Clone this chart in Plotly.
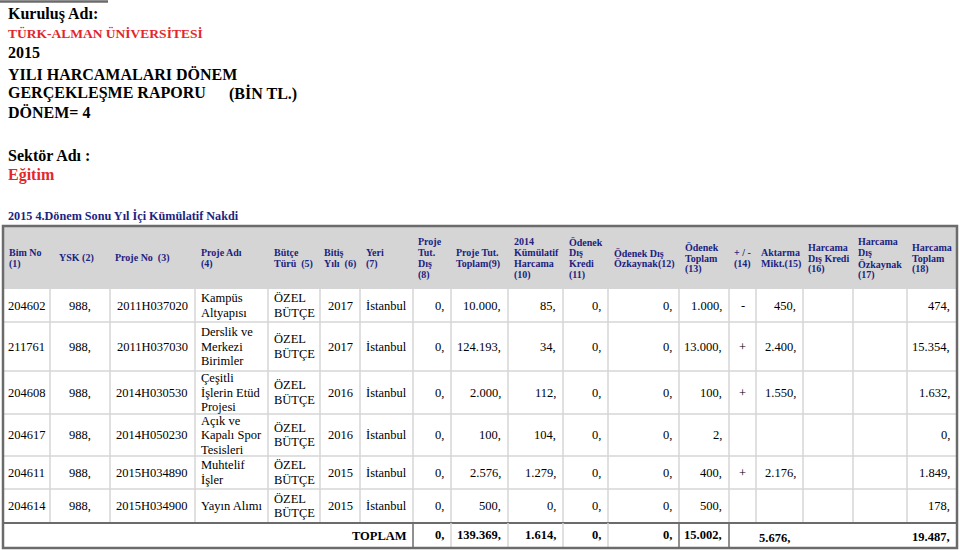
import plotly.graph_objects as go

# ---------------- data ----------------
title_lines = ["Kuruluş Adı:", "TÜRK-ALMAN ÜNİVERSİTESİ", "2015", "YILI HARCAMALARI DÖNEM",
               "GERÇEKLEŞME RAPORU", "(BİN TL.)", "DÖNEM= 4", "Sektör Adı :", "Eğitim",
               "2015 4.Dönem Sonu Yıl İçi Kümülatif Nakdi"]

headers = ["Bim No\n(1)", "YSK (2)", "Proje No  (3)", "Proje Adı\n(4)", "Bütçe\nTürü  (5)",
           "Bitiş\nYılı  (6)", "Yeri\n(7)", "Proje\nTut.\nDış\n(8)", "Proje Tut.\nToplam(9)",
           "2014\nKümülatif\nHarcama\n(10)", "Ödenek\nDış\nKredi\n(11)", "Ödenek Dış\nÖzkaynak(12)",
           "Ödenek\nToplam\n(13)", "+ / -\n(14)", "Aktarma\nMikt.(15)", "Harcama\nDış Kredi\n(16)",
           "Harcama\nDış\nÖzkaynak\n(17)", "Harcama\nToplam\n(18)"]

bim_no = ["204602", "211761", "204608", "204617", "204611", "204614"]
ysk = [988, 988, 988, 988, 988, 988]
proje_no = ["2011H037020", "2011H037030", "2014H030530", "2014H050230", "2015H034890", "2015H034900"]
proje_adi = ["Kampüs\nAltyapısı", "Derslik ve\nMerkezi\nBirimler", "Çeşitli\nİşlerin Etüd\nProjesi",
             "Açık ve\nKapalı Spor\nTesisleri", "Muhtelif\nİşler", "Yayın Alımı"]
butce_turu = ["ÖZEL\nBÜTÇE"] * 6
bitis_yili = [2017, 2017, 2016, 2016, 2015, 2015]
yeri = ["İstanbul"] * 6
proje_tut_dis = [0, 0, 0, 0, 0, 0]
proje_tut_toplam = [10000, 124193, 2000, 100, 2576, 500]
kumulatif_2014 = [85, 34, 112, 104, 1279, 0]
odenek_dis_kredi = [0, 0, 0, 0, 0, 0]
odenek_dis_ozkaynak = [0, 0, 0, 0, 0, 0]
odenek_toplam = [1000, 13000, 100, 2, 400, 500]
arti_eksi = ["-", "+", "+", "", "+", ""]
aktarma = [450, 2400, 1550, None, 2176, None]
harcama_dis_kredi = [None] * 6
harcama_dis_ozkaynak = [None] * 6
harcama_toplam = [474, 15354, 1632, 0, 1849, 178]

toplam_label = "TOPLAM"
tot_proje_tut_dis = 0
tot_proje_tut_toplam = 139369
tot_kumulatif_2014 = 1614
tot_odenek_dis_kredi = 0
tot_odenek_dis_ozkaynak = 0
tot_odenek_toplam = 15002
tot_aktarma = 5676
tot_harcama_toplam = 19487

# ---------------- layout / style ----------------
FONT = "Liberation Serif, Times New Roman, serif"
NAVY = "#1c2380"
RED = "#e3262a"
DARK = "#6b6b6b"
LIGHT = "#d6d6d6"
HEAD_BG = "#d5d5d5"

col_edges = [3, 50, 110, 195, 268, 320, 360, 413, 451, 508, 563, 608, 679, 729, 756, 803, 853, 907, 957]
row_edges = [289, 322, 371, 414, 456, 489, 523]
table_top, table_bottom = 226, 548
header_cy = 258
aligns = ["center", "center", "right", "left", "left", "center", "left", "right", "right", "right",
          "right", "right", "right", "center", "right", "right", "right", "right"]


def fmt(v):
    if v is None:
        return ""
    return f"{v:,}".replace(",", ".") + ","


fig = go.Figure()
fig.update_layout(width=960, height=550, autosize=False, margin=dict(l=0, r=0, t=0, b=0),
                  paper_bgcolor="white", plot_bgcolor="white", showlegend=False,
                  xaxis=dict(range=[0, 960], visible=False, fixedrange=True),
                  yaxis=dict(range=[550, 0], visible=False, fixedrange=True))


def text(x, y, s, size, color="black", anchor="left", bold=False):
    fig.add_annotation(x=x, y=y, xref="x", yref="y", text=(f"<b>{s}</b>" if bold else s),
                       showarrow=False, xanchor=anchor, yanchor="middle", borderpad=0,
                       font=dict(family=FONT, size=size, color=color))


def mtext(x, cy, s, size, spacing, color="black", anchor="left", bold=False):
    lines = s.split("\n")
    n = len(lines)
    for i, ln in enumerate(lines):
        text(x, cy + (i - (n - 1) / 2) * spacing, ln, size, color, anchor, bold)


def line(x0, y0, x1, y1, color, w):
    fig.add_shape(type="line", x0=x0, y0=y0, x1=x1, y1=y1, xref="x", yref="y",
                  line=dict(color=color, width=w))


# top stub line
line(0, 1.5, 108, 1.5, DARK, 2.5)

# titles
title_pos = [(7, 14, 16, "black"), (7, 33, 13.5, RED), (7, 52, 16, "black"), (7, 74, 16, "black"),
             (7, 93, 16, "black"), (228, 93, 16, "black"), (7, 112, 16, "black"),
             (7, 155, 16, "black"), (7, 175, 16, RED), (7, 216, 12.2, NAVY)]
for s, (x, y, sz, c) in zip(title_lines, title_pos):
    text(x, y, s, sz, c, bold=True)

# header background
fig.add_shape(type="rect", x0=col_edges[0], y0=table_top, x1=col_edges[-1], y1=row_edges[0],
              xref="x", yref="y", fillcolor=HEAD_BG, line=dict(width=0), layer="below")

# body grid
for y in row_edges[1:-1]:
    line(col_edges[0], y, col_edges[-1], y, LIGHT, 1.5)
for x in col_edges[1:-1]:
    line(x, row_edges[0], x, row_edges[-1], LIGHT, 1.5)

# totals row grid
line(col_edges[0], row_edges[-1], col_edges[-1], row_edges[-1], DARK, 2)
for x in [451, 508, 563, 608]:
    line(x, row_edges[-1], x, table_bottom, LIGHT, 1.5)
for x in [413, 679, 729]:
    line(x, row_edges[-1], x, table_bottom, DARK, 1.5)

# outer border
fig.add_shape(type="rect", x0=col_edges[0], y0=table_top, x1=col_edges[-1], y1=table_bottom,
              xref="x", yref="y", line=dict(color=DARK, width=2.5))

# headers
head_off = [5, 8, 4, 5, 5, 3, 5, 4, 4, 5, 5, 5, 5, 4, 4, 4, 4, 4]
for i, h in enumerate(headers):
    mtext(col_edges[i] + head_off[i], header_cy, h, 10, 11, NAVY, "left", bold=True)

# body
columns = [bim_no, [fmt(v) for v in ysk], proje_no, proje_adi, butce_turu,
           [str(v) for v in bitis_yili], yeri, [fmt(v) for v in proje_tut_dis],
           [fmt(v) for v in proje_tut_toplam], [fmt(v) for v in kumulatif_2014],
           [fmt(v) for v in odenek_dis_kredi], [fmt(v) for v in odenek_dis_ozkaynak],
           [fmt(v) for v in odenek_toplam], arti_eksi, [fmt(v) for v in aktarma],
           [fmt(v) for v in harcama_dis_kredi], [fmt(v) for v in harcama_dis_ozkaynak],
           [fmt(v) for v in harcama_toplam]]

for c, vals in enumerate(columns):
    x0, x1 = col_edges[c], col_edges[c + 1]
    a = aligns[c]
    if a == "left":
        x = x0 + 5
    elif a == "right":
        x = x1 - 6
    else:
        x = (x0 + x1) / 2
    for r, v in enumerate(vals):
        if not v:
            continue
        cy = (row_edges[r] + row_edges[r + 1]) / 2
        mtext(x, cy, v, 12.5, 14.5, "black", a)

# totals
tcy = (row_edges[-1] + table_bottom) / 2 - 1
text(408, tcy + 1, toplam_label, 12.5, "black", "right", bold=True)
tot_cells = [(451, tot_proje_tut_dis), (508, tot_proje_tut_toplam), (563, tot_kumulatif_2014),
             (608, tot_odenek_dis_kredi), (679, tot_odenek_dis_ozkaynak), (729, tot_odenek_toplam)]
for xr, v in tot_cells:
    text(xr - 6, tcy, fmt(v), 12.5, "black", "right", bold=True)
text(758, tcy + 3, fmt(tot_aktarma), 12.5, "black", "left", bold=True)
text(951, tcy + 2, fmt(tot_harcama_toplam), 12.5, "black", "right", bold=True)

fig.write_html("out.html", config={"displayModeBar": False},
               post_script="document.body.style.margin='0px';document.body.style.overflow='hidden';")
